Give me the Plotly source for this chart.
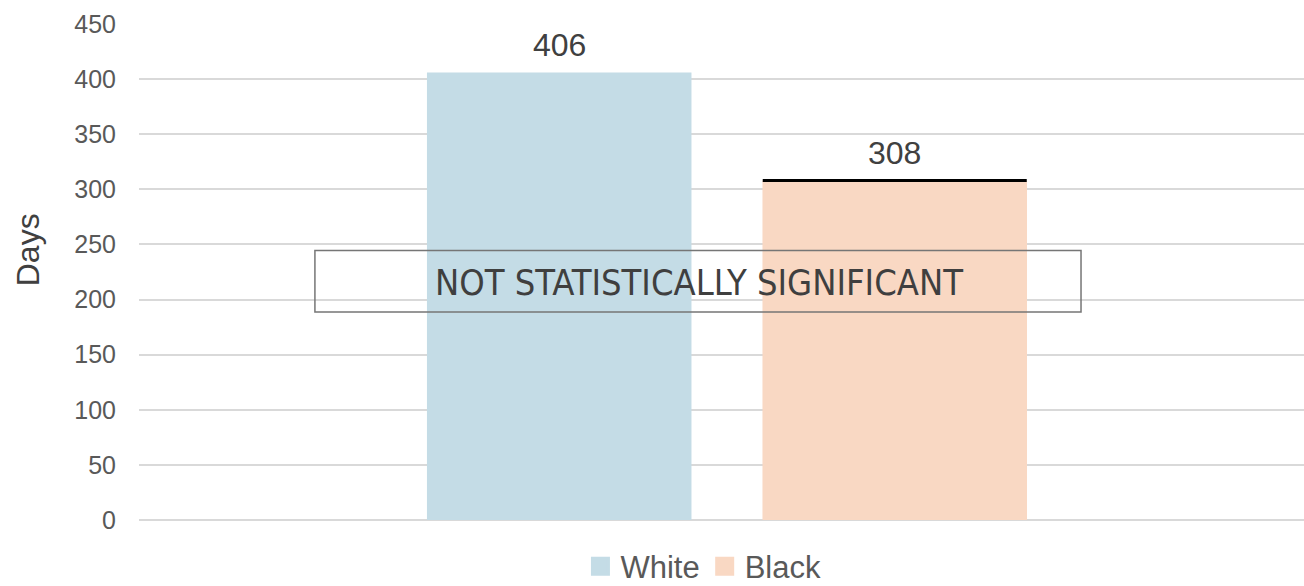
import plotly.graph_objects as go

# ---- data ----
categories = [""]
series_names = ["White", "Black"]
series_values = [406, 308]
series_colors = ["#C4DCE6", "#F9D8C3"]
top_line = [False, True]
y_ticks = [0, 50, 100, 150, 200, 250, 300, 350, 400, 450]
axis_title = "Days"
note_text = "NOT STATISTICALLY SIGNIFICANT"

FONT = "Liberation Sans, Arial, sans-serif"
NARROW = "Liberation Sans Narrow, Arial Narrow, DejaVu Sans Condensed, sans-serif"

fig = go.Figure()

for name, val, col, tl in zip(series_names, series_values, series_colors, top_line):
    kw = {}
    if tl:
        kw["error_y"] = dict(type="data", array=[0], symmetric=True,
                             width=132, thickness=3, color="#000000")
    fig.add_trace(go.Bar(x=categories, y=[val], name=name,
                         marker=dict(color=col, line=dict(width=0)),
                         showlegend=False, hoverinfo="skip", **kw))

# legend entries (square swatches)
for name, col in zip(series_names, series_colors):
    fig.add_trace(go.Scatter(x=[None], y=[None], mode="markers", name=name,
                             marker=dict(symbol="square", size=16, color=col,
                                         line=dict(color=col, width=3))))

# data labels
slot_px = 335.5
n = len(series_names)
for i, (name, val) in enumerate(zip(series_names, series_values)):
    fig.add_annotation(x=0, y=val, xref="x", yref="y", text=str(val),
                       showarrow=False, yanchor="bottom",
                       xshift=(i - (n - 1) / 2) * slot_px, yshift=8,
                       font=dict(family=FONT, size=32, color="#404040"))

# not significant box
fig.add_shape(type="rect", xref="paper", yref="y", x0=0.151, x1=0.8086,
              y0=188.8, y1=244.5, line=dict(color="#767676", width=1.5),
              fillcolor="rgba(0,0,0,0)", layer="above")
fig.add_annotation(x=0.4807, y=215.4, xref="paper", yref="y", text=note_text,
                   showarrow=False, xanchor="center", yanchor="middle",
                   font=dict(family=NARROW, size=36, color="#3F3F3F"))

# y-axis title
fig.add_annotation(x=-0.0952, y=0.544, xref="paper", yref="paper", text=axis_title,
                   textangle=-90, showarrow=False, xanchor="center", yanchor="middle",
                   font=dict(family=FONT, size=32, color="#404040"))

fig.update_layout(
    width=1304, height=586,
    margin=dict(l=139, r=0, t=24, b=66, autoexpand=False),
    paper_bgcolor="white", plot_bgcolor="white",
    barmode="group", bargap=0.424, bargroupgap=0.2116,
    font=dict(family=FONT, color="#595959"),
    showlegend=True,
    legend=dict(orientation="h", x=0.4845, xanchor="center", y=-0.094,
                yanchor="middle", font=dict(family=FONT, size=31, color="#595959"),
                itemwidth=30, bgcolor="rgba(0,0,0,0)"),
    xaxis=dict(type="category", range=[-0.5047, 0.4953], showticklabels=False,
               showgrid=False, zeroline=False, showline=False, fixedrange=True),
    yaxis=dict(range=[0, 450], tickvals=y_ticks, ticktext=[str(t) for t in y_ticks],
               showgrid=True, gridcolor="#D9D9D9", gridwidth=1.5,
               zeroline=True, zerolinecolor="#D9D9D9", zerolinewidth=1.5,
               showline=False, ticks="", ticklabelstandoff=22,
               tickfont=dict(family=FONT, size=25, color="#595959")),
)

fig.write_html("out.html")
